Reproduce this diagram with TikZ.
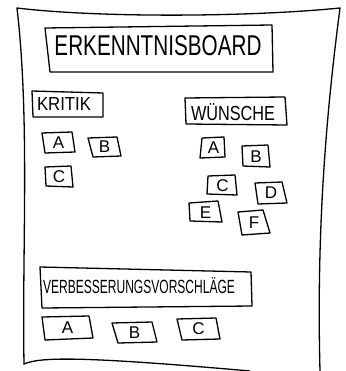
\documentclass[tikz,border=0pt]{standalone}
\usepackage{fontspec}
\usepackage{graphicx}
\setmainfont{Liberation Sans}
\tikzset{
  sketch/.style={line width=1.3pt, line join=round, line cap=round, black},
  lbl/.style={inner sep=0pt, font=\fontsize{17}{17}\selectfont},
}
\newcommand{\fitt}[3]{\resizebox{#1pt}{#2pt}{#3}}
\newcommand{\stick}[6]{%
  \draw[sketch] #1 -- #2 -- #3 -- #4 -- cycle;
  \node[lbl] (#5) at ($#1!0.5!#3$) {#6};}
\usetikzlibrary{calc}
\begin{document}
\begin{tikzpicture}[x=1pt,y=-1pt]
\useasboundingbox (0,0) rectangle (345,371);
% outer sheet
\draw[sketch] (24,364) .. controls (22,250) and (30,120) .. (17,8)
  .. controls (100,18) and (250,17) .. (340,8)
  .. controls (328,100) and (316,220) .. (320,371);
\draw[sketch] (24,364) .. controls (40,357) and (80,356) .. (250,371);
% title
\draw[sketch] (45,28) -- (272,25) -- (273,72) -- (50,72) -- cycle;
\node[inner sep=0pt] (title) at (158,45.5) {\fitt{207}{20}{ERKENNTNISBOARD}};
% kritik
\draw[sketch] (32,91) -- (103,93) -- (103,117) -- (33,117) -- cycle;
\node[inner sep=0pt] (kritik) at (64,104) {\fitt{54}{13}{KRITIK}};
% wuensche
\draw[sketch] (185,98) -- (285,97) -- (287,125) -- (186,124) -- cycle;
\node[inner sep=0pt] (wuensche) at (233,112) {\fitt{84}{17}{WÜNSCHE}};
% kritik stickies
\stick{(42,133)}{(72,132)}{(75,152)}{(45,153)}{ka}{A}
\stick{(88,138)}{(117,137)}{(121,156)}{(93,157)}{kb}{B}
\stick{(45,167)}{(71,166)}{(73,187)}{(46,186)}{kc}{C}
% wuensche stickies
\stick{(202,138)}{(224,137)}{(225,157)}{(200,158)}{wa}{A}
\stick{(242,146)}{(268,145)}{(270,167)}{(243,166)}{wb}{B}
\stick{(208,176)}{(235,175)}{(237,195)}{(207,194)}{wc}{C}
\stick{(255,183)}{(282,182)}{(287,203)}{(258,204)}{wd}{D}
\stick{(189,203)}{(218,201)}{(222,222)}{(190,221)}{we}{E}
\stick{(238,212)}{(263,210)}{(270,233)}{(242,235)}{wf}{F}
% verbesserungen
\draw[sketch] (40,267) -- (251,272) -- (252,306) -- (42,308) -- cycle;
\node[inner sep=0pt] (verb) at (139,286) {\fitt{192}{16}{VERBESSERUNGSVORSCHLÄGE}};
\stick{(42,317)}{(89,316)}{(93,338)}{(45,340)}{va}{A}
\stick{(112,323)}{(152,322)}{(157,342)}{(118,343)}{vb}{B}
\stick{(177,319)}{(216,318)}{(220,339)}{(182,340)}{vc}{C}
\end{tikzpicture}
\end{document}
